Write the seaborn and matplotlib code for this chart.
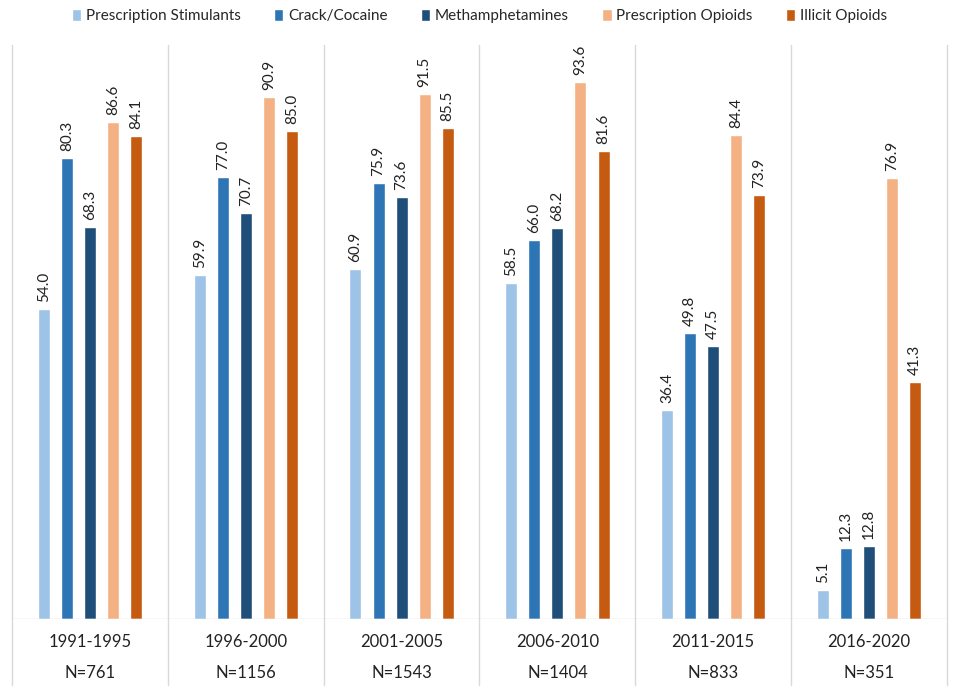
import pandas as pd
import seaborn as sns
import matplotlib.pyplot as plt

# data
periods = ["1991-1995", "1996-2000", "2001-2005", "2006-2010", "2011-2015", "2016-2020"]
n_sizes = ["N=761", "N=1156", "N=1543", "N=1404", "N=833", "N=351"]
drugs = ["Prescription Stimulants", "Crack/Cocaine", "Methamphetamines",
         "Prescription Opioids", "Illicit Opioids"]
rx_stimulants = [54.0, 59.9, 60.9, 58.5, 36.4, 5.1]
crack_cocaine = [80.3, 77.0, 75.9, 66.0, 49.8, 12.3]
meth = [68.3, 70.7, 73.6, 68.2, 47.5, 12.8]
rx_opioids = [86.6, 90.9, 91.5, 93.6, 84.4, 76.9]
illicit_opioids = [84.1, 85.0, 85.5, 81.6, 73.9, 41.3]
colors = ["#9dc3e6", "#2e75b6", "#1f4e79", "#f4b183", "#c55a11"]

series = [rx_stimulants, crack_cocaine, meth, rx_opioids, illicit_opioids]
rows = []
for drug, vals in zip(drugs, series):
    for p, v in zip(periods, vals):
        rows.append({"Period": p, "Drug": drug, "Pct": v})
df = pd.DataFrame(rows)

sns.set_style("white")
plt.rcParams["font.family"] = ["Lato", "DejaVu Sans"]

fig = plt.figure(figsize=(9.57, 6.92), dpi=100)
ax = fig.add_axes([12 / 957, 1 - 619 / 692, 935 / 957, 574 / 692])

sns.barplot(data=df, x="Period", y="Pct", hue="Drug", order=periods, hue_order=drugs,
            palette=colors, width=0.74, gap=0.48, saturation=1, ax=ax, legend=True)

# value labels above bars
for cont in ax.containers:
    ax.bar_label(cont, fmt="%.1f", rotation=90, padding=5, fontsize=11, color="#222222")

ax.set_xlim(-0.5, 5.5)
ax.set_ylim(0, 100)
ax.set_xlabel("")
ax.set_ylabel("")
ax.set_xticks([])
ax.set_yticks([])
for s in ax.spines.values():
    s.set_visible(False)

# baseline and group separators
ax.axhline(0, color="#d9d9d9", lw=1)
for x in [i - 0.5 for i in range(7)]:
    ax.axvline(x, ymin=-0.115, ymax=1, color="#d9d9d9", lw=1, clip_on=False)

trans = ax.get_xaxis_transform()
for i, (p, n) in enumerate(zip(periods, n_sizes)):
    ax.text(i, -0.040, p, transform=trans, ha="center", va="center",
            fontsize=12, color="#222222")
    ax.text(i, -0.094, n, transform=trans, ha="center", va="center",
            fontsize=12, color="#222222")

ax.legend(loc="center", bbox_to_anchor=(0.5, 1 + 29 / 574), ncol=5, frameon=False,
          fontsize=11, handlelength=0.6, handleheight=0.8, handletextpad=0.3,
          columnspacing=2.2, borderaxespad=0)

fig.savefig("out.png", dpi=100)
